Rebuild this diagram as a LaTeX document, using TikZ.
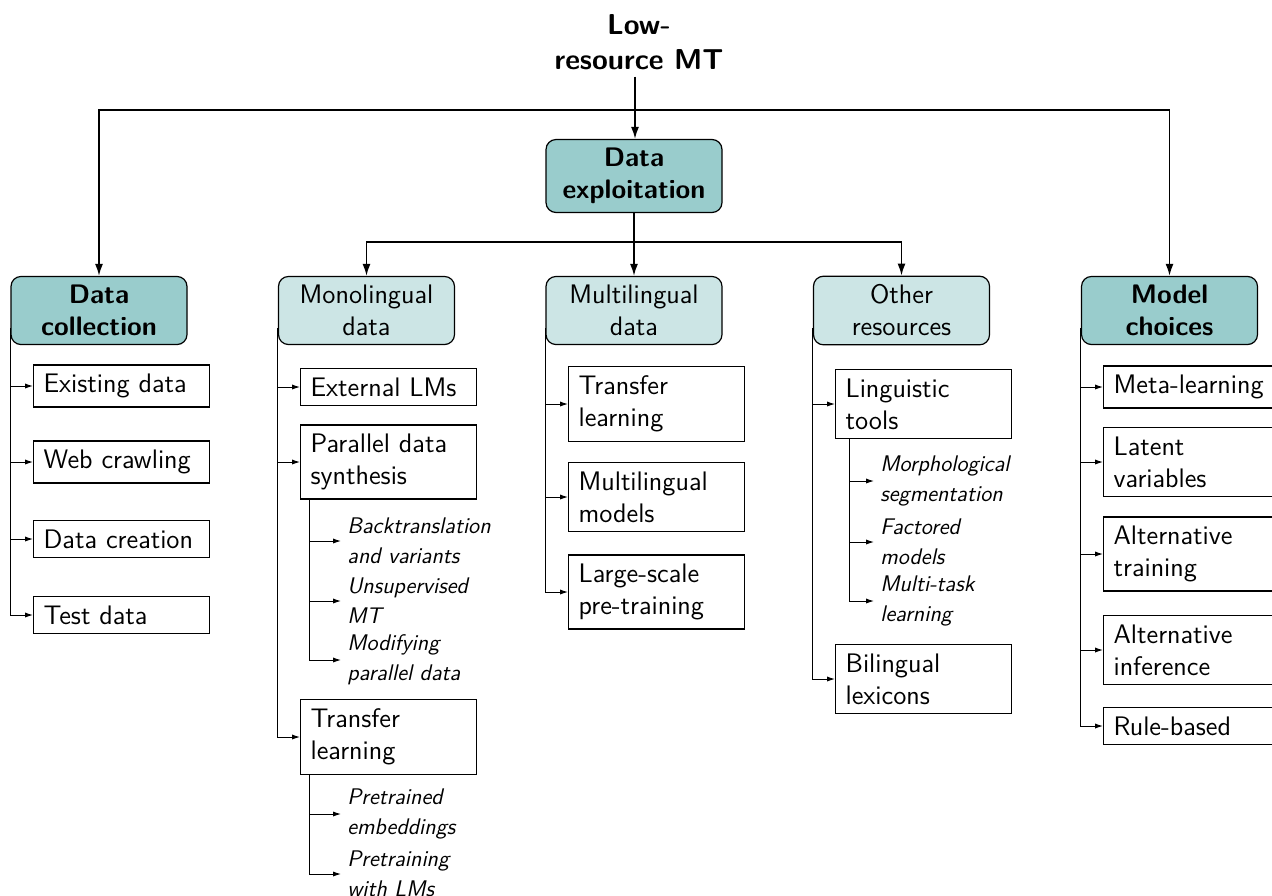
\documentclass[tikz,border=0pt]{standalone}
\usetikzlibrary{arrows.meta,calc}
\definecolor{tealdark}{HTML}{99CCCC}
\definecolor{teallight}{HTML}{CCE5E5}
\begin{document}
\begin{tikzpicture}[x=0.5pt,y=-0.5pt,
  catbox/.style={draw, line width=0.6pt, rounded corners=5pt, text width=78pt,
    align=center, inner xsep=5pt, inner ysep=4.3pt,
    font=\sffamily\fontsize{13.4}{16}\selectfont},
  maincat/.style={catbox, fill=tealdark, font=\sffamily\bfseries\fontsize{13.4}{16}\selectfont},
  subcat/.style={catbox, fill=teallight},
  leaf/.style={draw, line width=0.6pt, anchor=west, text width=78pt, align=left,
    inner xsep=5pt, inner ysep=4.5pt, font=\sffamily\fontsize{13.4}{16}\selectfont},
  item/.style={anchor=west, align=left, inner xsep=3pt, inner ysep=1pt,
    font=\sffamily\itshape\fontsize{11.3}{15}\selectfont},
  mainarr/.style={line width=0.8pt, -{Latex[length=6pt,width=4pt]}},
  leafarr/.style={line width=0.5pt, -{Latex[length=4pt,width=2.6pt]}},
]
\useasboundingbox (0,0) rectangle (1272,895);

% root and first level
\node[font=\sffamily\bfseries\fontsize{14.4}{17.5}\selectfont, align=center] (root) at (639,42) {Low-\\resource MT};
\node[maincat] (dexp) at (634,176) {Data\\exploitation};
\node[maincat] (dcol) at (99,310.5) {Data\\collection};
\node[subcat] (mono) at (366.5,310.5) {Monolingual\\data};
\node[subcat] (multi) at (634,310.5) {Multilingual\\data};
\node[subcat] (other) at (901.5,310.5) {Other\\resources};
\node[maincat] (model) at (1169.5,310.5) {Model\\choices};

% data collection
\node[leaf] (exist) at (33,386) {Existing data};
\node[leaf] (web) at (33,462) {Web crawling};
\node[leaf] (create) at (33,539) {Data creation};
\node[leaf] (test) at (33,615) {Test data};

% monolingual data
\node[leaf] (extlm) at (300,387) {External LMs};
\node[leaf] (pds) at (300,462) {Parallel data\\synthesis};
\node[item] (bt) at (341,541) {Backtranslation\\and variants};
\node[item] (umt) at (341,601) {Unsupervised\\MT};
\node[item] (mpd) at (341,660) {Modifying\\parallel data};
\node[leaf] (montl) at (300,737) {Transfer\\learning};
\node[item] (pemb) at (341,814) {Pretrained\\embeddings};
\node[item] (plm) at (341,874) {Pretraining\\with LMs};

% multilingual data
\node[leaf] (multl) at (568,404) {Transfer\\learning};
\node[leaf] (mulmod) at (568,497) {Multilingual\\models};
\node[leaf] (lspt) at (568,592) {Large-scale\\pre-training};

% other resources
\node[leaf] (ling) at (835,404) {Linguistic\\tools};
\node[item] (morph) at (874,481) {Morphological\\segmentation};
\node[item] (fact) at (874,542) {Factored\\models};
\node[item] (mtl) at (874,601) {Multi-task\\learning};
\node[leaf] (bilex) at (835,679) {Bilingual\\lexicons};

% model choices
\node[leaf] (meta) at (1103,387) {Meta-learning};
\node[leaf] (latent) at (1103,462) {Latent\\variables};
\node[leaf] (alttr) at (1103,554) {Alternative\\training};
\node[leaf] (altinf) at (1103,650) {Alternative\\inference};
\node[leaf] (rule) at (1103,726) {Rule-based};

% top-level connectors
\coordinate (fork1) at (635,110);
\coordinate (fork2) at (634,242);
\draw[mainarr] (fork1 |- root.south) -- (fork1 |- dexp.north);
\draw[mainarr] (fork1) -| (dcol.north);
\draw[mainarr] (fork1) -| (model.north);
\draw[mainarr] (dexp.south) -- (multi.north);
\draw[mainarr] (fork2) -| (mono.north);
\draw[mainarr] (fork2) -| (other.north);

% stems down the left side of each category
\coordinate (dcolstem) at ($(dcol.south west)+(0,-17)$);
\coordinate (monostem) at ($(mono.south west)+(0,-17)$);
\coordinate (multistem) at ($(multi.south west)+(0,-17)$);
\coordinate (otherstem) at ($(other.south west)+(0,-17)$);
\coordinate (modelstem) at ($(model.south west)+(0,-17)$);
\coordinate (pdsstem) at ($(pds.south west)+(9,0)$);
\coordinate (montlstem) at ($(montl.south west)+(9,0)$);
\coordinate (lingstem) at ($(ling.south west)+(14,0)$);

\foreach \n in {exist,web,create,test} \draw[leafarr] (dcolstem) |- (\n.west);
\foreach \n in {extlm,pds,montl} \draw[leafarr] (monostem) |- (\n.west);
\foreach \n in {bt,umt,mpd} \draw[leafarr] (pdsstem) |- (\n.west);
\foreach \n in {pemb,plm} \draw[leafarr] (montlstem) |- (\n.west);
\foreach \n in {multl,mulmod,lspt} \draw[leafarr] (multistem) |- (\n.west);
\foreach \n in {ling,bilex} \draw[leafarr] (otherstem) |- (\n.west);
\foreach \n in {morph,fact,mtl} \draw[leafarr] (lingstem) |- (\n.west);
\foreach \n in {meta,latent,alttr,altinf,rule} \draw[leafarr] (modelstem) |- (\n.west);
\end{tikzpicture}
\end{document}
